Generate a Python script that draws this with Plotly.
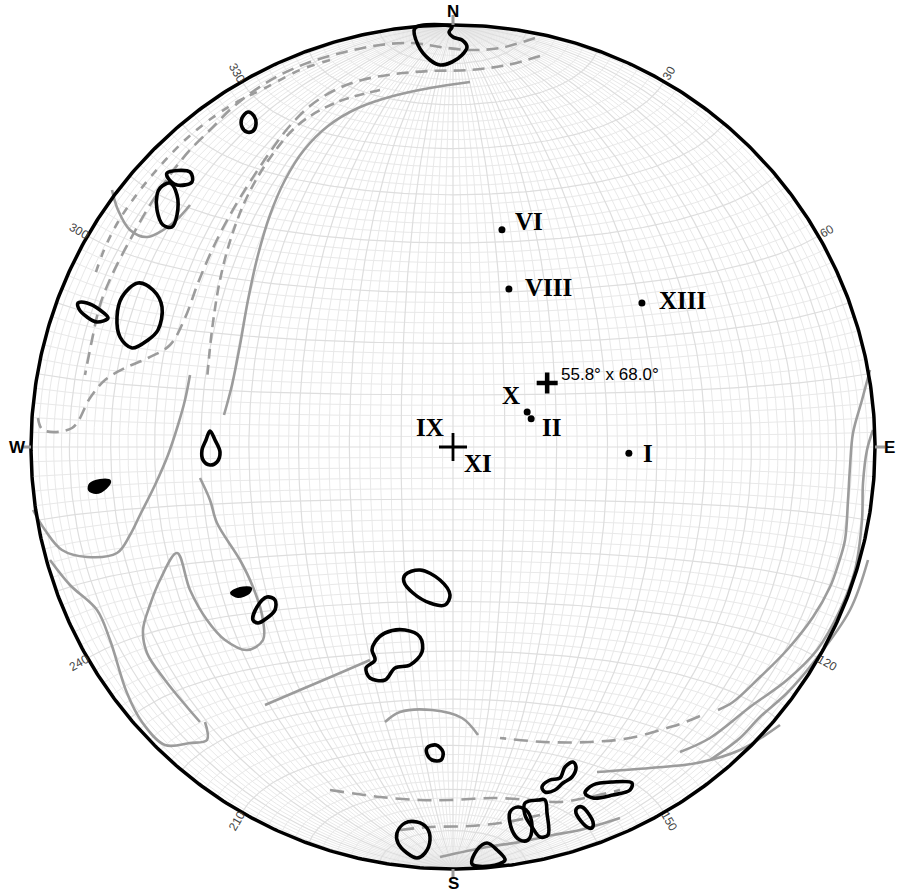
import numpy as np
import plotly.graph_objects as go

R = 422.0  # net radius in plot units

# ---------------- data ----------------
point_names = ["VI", "VIII", "XIII", "I", "IIa", "IIb", "XI", "mean"]
point_trend = [12.7, 19.5, 52.7, 92.0, 64.7, 70.2, 0.0, 55.8]
point_plunge = [46.2, 57.4, 43.1, 55.7, 74.2, 74.0, 90.0, 68.0]

label_text = ["VI", "VIII", "XIII", "I", "X", "II", "IX", "XI", "55.8° x 68.0°"]
label_point = [0, 1, 2, 3, 4, 5, 6, 6, 7]

azimuth_ticks = [30, 60, 120, 150, 210, 240, 300, 330]
cardinal_names = ["N", "E", "S", "W"]
cardinal_az = [0, 90, 180, 270]

# density contours, digitised in net units (centre = 0,0; radius = 422; y north)
black_loops = [
    [(-38, 419), (-35, 402), (-23, 387), (-13, 382), (-1, 385), (9, 392), (14, 400), (9, 407), (0, 410), (-4, 415), (-1, 420)],
    [(-205, 335), (-199, 331), (-197, 323), (-200, 316), (-206, 315), (-211, 320), (-211, 329)],
    [(-293, 259), (-283, 264), (-276, 252), (-276, 232), (-281, 220), (-290, 222), (-296, 237), (-296, 252)],
    [(-286, 274), (-263, 275), (-261, 265), (-276, 262), (-285, 269)],
    [(-315, 164), (-300, 157), (-291, 140), (-295, 117), (-305, 107), (-321, 99), (-333, 110), (-336, 130), (-331, 150)],
    [(-375, 144), (-366, 144), (-353, 137), (-345, 129), (-356, 125), (-366, 130), (-374, 138)],
    [(-243, 16), (-238, 7), (-233, -5), (-236, -15), (-243, -18), (-250, -13), (-251, -3), (-247, 7)],
    [(-200, -173), (-196, -160), (-186, -150), (-178, -153), (-178, -163), (-186, -171), (-195, -176)],
    [(-48, -128), (-33, -123), (-13, -133), (-3, -148), (-8, -158), (-23, -156), (-40, -146), (-49, -135)],
    [(-78, -195), (-68, -186), (-48, -183), (-33, -190), (-31, -205), (-43, -218), (-58, -221), (-68, -233), (-83, -231), (-87, -221), (-78, -213), (-81, -203)],
    [(-26, -301), (-17, -298), (-10, -305), (-12, -313), (-21, -313), (-26, -307)],
    [(89, -340), (97, -333), (107, -331), (112, -320), (120, -315), (123, -320), (119, -330), (110, -336), (102, -343), (92, -345)],
    [(132, -346), (140, -338), (160, -335), (179, -336), (177, -343), (160, -348), (140, -351)],
    [(124, -361), (129, -360), (140, -375), (139, -381), (134, -380), (123, -366)],
    [(57, -365), (65, -360), (75, -365), (79, -381), (75, -393), (67, -393), (59, -383)],
    [(72, -356), (85, -353), (92, -353), (94, -366), (95, -388), (87, -390), (79, -380), (72, -368)],
    [(19, -417), (24, -403), (34, -396), (44, -403), (52, -413), (37, -419)],
    [(-56, -386), (-48, -376), (-36, -375), (-26, -381), (-23, -393), (-28, -406), (-36, -411), (-46, -406), (-55, -396)],
]
black_filled = [
    [(-363, -37), (-353, -33), (-343, -34), (-347, -41), (-357, -46), (-364, -43)],
    [(-222, -146), (-213, -141), (-202, -141), (-204, -146), (-215, -150)],
]

# lower density contours, digitised in image-reader units (x right, y down; net centre at 453,447)
gray_digitised = [
    [(535, 38), (500, 48), (470, 50), (440, 47), (413, 43), (380, 45), (345, 52), (310, 62), (280, 75), (255, 90), (232, 108), (212, 128), (190, 150), (170, 175), (150, 205), (130, 240), (112, 275), (100, 305), (92, 340), (85, 375)],
    [(540, 56), (507, 65), (470, 70), (430, 71), (395, 74), (362, 80), (335, 90), (310, 106), (288, 128), (268, 155), (248, 185), (230, 215), (213, 248), (198, 283), (185, 318), (170, 345), (148, 358), (125, 368), (105, 380), (90, 398), (72, 428), (43, 430), (38, 418)],
    [(470, 82), (430, 88), (393, 96), (358, 108), (328, 126), (304, 150), (285, 180), (270, 215), (258, 255), (248, 300), (240, 345), (232, 385), (224, 415)],
    [(33, 510), (45, 530), (62, 550), (87, 557), (117, 553), (130, 535), (140, 515), (155, 485), (168, 455), (178, 425), (185, 400), (190, 375)],
    [(50, 560), (70, 585), (97, 610), (110, 640), (127, 693), (142, 722), (165, 745), (190, 743), (207, 740), (205, 722)],
    [(200, 478), (210, 500), (217, 523), (240, 560), (253, 587), (262, 615), (263, 640), (247, 650), (225, 640), (207, 620), (190, 590), (177, 553), (160, 580), (150, 605), (143, 630), (147, 653), (165, 680), (187, 707), (200, 722)],
    [(265, 705), (300, 690), (340, 673), (370, 660)],
    [(385, 722), (400, 712), (432, 710), (462, 718), (478, 735)],
    [(870, 370), (862, 400), (853, 433), (850, 467), (848, 500), (845, 540), (838, 565), (830, 587), (813, 617), (787, 650), (757, 680), (733, 702), (718, 710)],
    [(700, 716), (683, 723), (667, 728), (630, 738), (590, 742), (545, 742), (500, 738)],
    [(873, 430), (867, 450), (863, 483), (862, 520), (855, 570), (840, 610), (817, 650), (787, 680), (750, 707), (710, 738), (680, 752)],
    [(868, 560), (850, 610), (813, 663), (787, 693), (760, 717), (740, 738), (710, 760)],
    [(330, 790), (380, 797), (420, 800), (450, 800), (493, 798), (530, 800), (560, 802), (590, 797), (620, 790)],
    [(597, 772), (650, 768), (697, 763), (740, 750), (780, 725)],
    [(400, 830), (430, 827), (470, 826), (507, 822), (540, 815)],
    [(440, 857), (487, 847), (520, 842), (553, 835), (580, 830), (620, 818)],
    [(380, 90), (335, 103), (298, 125), (270, 158), (248, 195), (232, 235), (220, 280), (212, 330), (207, 380)],
    [(330, 60), (300, 70), (265, 88), (237, 102), (212, 118), (185, 140), (160, 166), (137, 194), (118, 222), (104, 250), (94, 278)],
    [(112, 190), (118, 210), (130, 230), (147, 237), (173, 223), (190, 205)],
]
gray_dash = ["12px,7px", "12px,7px", "solid", "solid", "solid", "solid", "solid", "solid",
             "solid", "14px,8px", "solid", "solid", "14px,8px", "solid", "14px,8px", "solid",
             "10px,6px", "8px,8px", "solid"]

# ---------------- helpers ----------------
def project(trend, plunge):
    t = np.radians(np.asarray(trend, float))
    p = np.radians(np.asarray(plunge, float))
    r = R * np.sqrt(2) * np.sin((np.pi / 2 - p) / 2)
    return r * np.sin(t), r * np.cos(t)


def vec_to_xy(vx, vy, vz):
    s = R / np.sqrt(1 + vz)
    return vx * s, vy * s


def from_digitiser(path):
    return [(u - 453, 447 - v) for u, v in path]


fig = go.Figure()

# ---------------- grid (Schmidt net, 2 deg) ----------------
t = np.radians(np.linspace(-90, 90, 121))
minor_x, minor_y, major_x, major_y = [], [], [], []
for ang in range(-88, 89, 2):
    a = np.radians(ang)
    vx = np.cos(t) * np.sin(a)
    vy = np.sin(t)
    vz = np.cos(t) * np.cos(a)
    mx, my = vec_to_xy(vx, vy, vz)
    vx2 = np.cos(a) * np.sin(t)
    vy2 = np.full_like(t, np.sin(a))
    vz2 = np.cos(a) * np.cos(t)
    sx, sy = vec_to_xy(vx2, vy2, vz2)
    tx, ty = (major_x, major_y) if ang % 10 == 0 else (minor_x, minor_y)
    for xx, yy in ((mx, my), (sx, sy)):
        tx.extend(list(xx) + [None])
        ty.extend(list(yy) + [None])

fig.add_trace(go.Scatter(x=minor_x, y=minor_y, mode="lines",
                         line=dict(color="#e9e9e9", width=1), hoverinfo="skip"))
fig.add_trace(go.Scatter(x=major_x, y=major_y, mode="lines",
                         line=dict(color="#dedede", width=1.2), hoverinfo="skip"))

# ---------------- gray contours ----------------
for path, dash in zip(gray_digitised, gray_dash):
    xs, ys = zip(*from_digitiser(path))
    fig.add_trace(go.Scatter(x=xs, y=ys, mode="lines",
                             line=dict(color="#9c9c9c", width=2.6, dash=dash, shape="spline"),
                             hoverinfo="skip"))

# ---------------- black contours ----------------
for loop in black_loops:
    xs, ys = zip(*(loop + loop[:1]))
    fig.add_trace(go.Scatter(x=xs, y=ys, mode="lines",
                             line=dict(color="black", width=3.6, shape="spline"),
                             hoverinfo="skip"))
for loop in black_filled:
    xs, ys = zip(*(loop + loop[:1]))
    fig.add_trace(go.Scatter(x=xs, y=ys, mode="lines", fill="toself", fillcolor="black",
                             line=dict(color="black", width=2, shape="spline"),
                             hoverinfo="skip"))

# ---------------- primitive circle ----------------
az = np.radians(np.linspace(0, 360, 721))
fig.add_trace(go.Scatter(x=R * np.sin(az), y=R * np.cos(az), mode="lines",
                         line=dict(color="black", width=3.5), hoverinfo="skip"))

for a in cardinal_az:
    ar = np.radians(a)
    fig.add_trace(go.Scatter(x=[R * np.sin(ar), (R + 10) * np.sin(ar)],
                             y=[R * np.cos(ar), (R + 10) * np.cos(ar)], mode="lines",
                             line=dict(color="#9a9a9a", width=3), hoverinfo="skip"))

# ---------------- points ----------------
px, py = project(point_trend, point_plunge)
dot_idx = [0, 1, 2, 3, 4, 5]
fig.add_trace(go.Scatter(x=px[dot_idx], y=py[dot_idx], mode="markers",
                         marker=dict(symbol="circle", size=7, color="black"), hoverinfo="skip"))
fig.add_trace(go.Scatter(x=[px[6]], y=[py[6]], mode="markers",
                         marker=dict(symbol="cross-thin", size=20, line=dict(color="black", width=2.8)),
                         hoverinfo="skip"))
fig.add_trace(go.Scatter(x=[px[7]], y=[py[7]], mode="markers",
                         marker=dict(symbol="cross-thin", size=15, line=dict(color="black", width=4.5)),
                         hoverinfo="skip"))

annotations = []
label_offsets = [(11, 8, "left"), (14, 2, "left"), (15, 3, "left"), (12, 0, "left"),
                 (-16, 16, "center"), (20, -9, "center"), (-23, 20, "center"),
                 (25, -16, "center"), (12, 8, "left")]
for txt, idx, (dx, dy, anc) in zip(label_text, label_point, label_offsets):
    if txt.startswith("55"):
        font = dict(family="Liberation Sans, Arial", size=17, color="black")
    else:
        font = dict(family="Liberation Serif, Times New Roman", size=25, color="black", weight="bold")
    annotations.append(dict(x=px[idx], y=py[idx], text=txt, showarrow=False, xanchor=anc,
                            yanchor="middle", xshift=dx, yshift=dy, font=font))

for a in azimuth_ticks:
    ar = np.radians(a)
    rot = a - 90 if a < 180 else a - 270
    annotations.append(dict(x=432 * np.sin(ar), y=432 * np.cos(ar), text=str(a), showarrow=False,
                            textangle=rot, xanchor="center", yanchor="middle",
                            font=dict(family="Liberation Sans, Arial", size=12, color="#444")))
for name, a in zip(cardinal_names, cardinal_az):
    ar = np.radians(a)
    rr = 436
    annotations.append(dict(x=rr * np.sin(ar), y=rr * np.cos(ar), text=name, showarrow=False,
                            xanchor="center", yanchor="middle",
                            font=dict(family="Liberation Sans, Arial", size=17, color="black", weight="bold")))

fig.update_layout(
    width=899, height=895, margin=dict(l=0, r=0, t=0, b=0),
    paper_bgcolor="white", plot_bgcolor="white", showlegend=False,
    xaxis=dict(range=[-453, 446], visible=False, fixedrange=True),
    yaxis=dict(range=[-448, 447], visible=False, fixedrange=True),
    annotations=annotations,
)
fig.write_html("out.html", config={"displayModeBar": False},
               post_script="document.body.style.margin='0';document.body.style.overflow='hidden';")
